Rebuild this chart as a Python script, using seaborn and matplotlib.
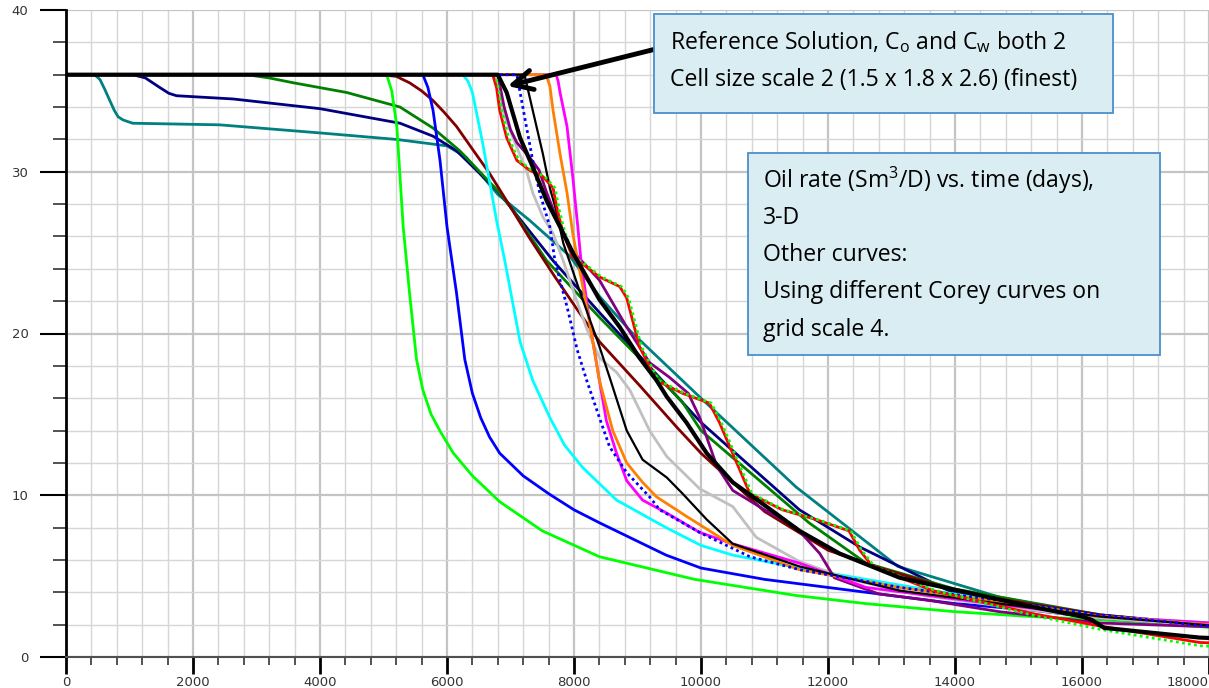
import matplotlib
matplotlib.use("Agg")
import matplotlib.pyplot as plt
from matplotlib.patches import Rectangle
import seaborn as sns
import numpy as np

# --- curves: time (days) vs oil rate (Sm3/D) ---
teal_x = [0, 430, 480, 535, 610, 690, 760, 820, 900, 1050, 2420, 4000, 5200, 6000, 6300, 6800, 7300, 7930, 8400, 8900, 10000, 11500, 13100, 14700, 16300, 17900, 18500]
teal_y = [36, 36, 35.9, 35.7, 35.1, 34.4, 33.8, 33.4, 33.2, 33.0, 32.9, 32.4, 32.0, 31.6, 30.9, 28.6, 27.0, 24.8, 22.3, 20.1, 16.0, 10.5, 5.6, 3.7, 2.5, 2.0, 1.9]

navy_x = [0, 1050, 1250, 1480, 1620, 1740, 2630, 4000, 5260, 5780, 6150, 6800, 7670, 8400, 10000, 11550, 12500, 13900, 16300, 18500]
navy_y = [36, 36, 35.8, 35.2, 34.85, 34.7, 34.5, 33.9, 33.0, 32.2, 31.3, 28.8, 24.5, 21.3, 14.5, 9.1, 6.8, 4.1, 2.4, 1.8]

green_x = [0, 2850, 3200, 3580, 4000, 4420, 5260, 5780, 6200, 6830, 7040, 7570, 8400, 9700, 10000, 11700, 12600, 14000, 16300, 18500]
green_y = [36, 36, 35.8, 35.5, 35.2, 34.9, 34.0, 32.7, 31.3, 28.7, 27.6, 24.5, 21.0, 15.8, 14.0, 8.3, 5.8, 4.2, 2.6, 1.8]

darkred_x = [0, 4940, 5200, 5410, 5600, 5780, 5950, 6150, 6400, 6670, 6940, 7300, 7700, 8100, 8400, 9030, 9620, 10000, 11000, 12000, 12900, 14200, 16300, 18500]
darkred_y = [36, 36, 35.9, 35.5, 35.0, 34.4, 33.7, 32.8, 31.4, 29.9, 28.2, 25.9, 23.5, 21.2, 19.5, 16.8, 14.2, 12.6, 9.0, 6.6, 5.4, 3.9, 2.6, 1.8]

lime_x = [0, 5050, 5130, 5210, 5310, 5410, 5520, 5620, 5750, 5900, 6100, 6400, 6830, 7500, 8400, 9900, 11500, 12600, 14000, 15200, 16300, 18500]
lime_y = [36, 36, 35.0, 32.8, 26.6, 22.5, 18.4, 16.5, 15.0, 13.9, 12.6, 11.2, 9.6, 7.8, 6.2, 4.8, 3.8, 3.3, 2.8, 2.5, 2.3, 1.7]

blue_x = [0, 5620, 5700, 5780, 5890, 6000, 6150, 6280, 6400, 6530, 6670, 6830, 7200, 7600, 8000, 8400, 9450, 10000, 11000, 12600, 14000, 15200, 16300, 18500]
blue_y = [36, 36, 35.2, 33.8, 30.7, 26.6, 22.5, 18.4, 16.3, 14.8, 13.6, 12.6, 11.2, 10.1, 9.1, 8.3, 6.3, 5.5, 4.8, 4.0, 3.3, 2.9, 2.4, 1.8]

cyan_x = [0, 6250, 6330, 6400, 6560, 6780, 6910, 7150, 7350, 7620, 7850, 8140, 8670, 9450, 10000, 10500, 11550, 13650, 16300, 18500]
cyan_y = [36, 36, 35.6, 34.9, 31.8, 27.0, 24.5, 19.5, 17.1, 14.8, 13.1, 11.7, 9.7, 8.0, 6.9, 6.3, 5.5, 4.1, 2.5, 2.0]

red_x = [0, 6720, 6780, 6830, 6940, 7100, 7300, 7510, 7670, 7740, 7830, 7980, 8170, 8400, 8720, 8830, 9030, 9300, 9710, 10130, 10290, 10770, 11280, 11810, 12330, 12500, 12700, 13650, 15200, 16300, 17850, 18500]
red_y = [36, 36, 35.2, 33.8, 32.1, 30.7, 30.1, 29.7, 29.0, 27.6, 26.2, 24.7, 24.2, 23.5, 22.9, 22.2, 19.2, 17.1, 16.3, 15.7, 14.5, 10.1, 9.1, 8.5, 7.8, 6.6, 5.6, 4.1, 2.7, 1.9, 0.9, 0.8]

purple_x = [0, 6800, 6900, 7000, 7100, 7300, 7450, 7570, 7720, 7930, 8400, 8830, 9190, 9500, 9800, 9980, 10250, 10500, 11000, 11500, 11870, 12100, 12800, 13600, 14700, 16300, 18500]
purple_y = [36, 36, 34.0, 32.6, 31.8, 30.9, 30.1, 28.7, 27.2, 25.3, 23.3, 20.4, 18.2, 17.3, 16.3, 14.8, 11.8, 10.3, 9.1, 8.0, 6.4, 4.9, 3.9, 3.5, 2.8, 2.1, 1.8]

grey_x = [0, 6750, 6900, 7100, 7250, 7350, 7510, 7670, 7830, 8000, 8200, 8400, 8670, 8880, 9190, 9460, 9980, 10500, 10870, 11550, 12340, 13500, 15000, 16300, 18500]
grey_y = [36, 36, 33.5, 31.5, 30.1, 28.7, 27.2, 26.2, 24.5, 22.5, 20.3, 18.5, 17.6, 16.5, 14.0, 12.4, 10.4, 9.3, 7.4, 5.9, 4.8, 3.8, 3.0, 2.4, 1.8]

bluedot_x = [0, 7100, 7250, 7350, 7460, 7620, 7700, 7900, 8050, 8200, 8400, 8560, 8830, 9190, 9350, 9980, 10770, 11550, 13130, 14700, 16300, 18500]
bluedot_y = [36, 36, 32.8, 30.7, 28.7, 26.6, 24.5, 21.5, 19.0, 17.1, 14.8, 13.0, 11.4, 9.9, 9.1, 7.7, 6.2, 5.4, 4.3, 3.5, 2.6, 1.7]

blackthin_x = [0, 7220, 7350, 7510, 7620, 7720, 7830, 8100, 8400, 8560, 8830, 9080, 9460, 9710, 10090, 10500, 11550, 13130, 14700, 16300, 18500]
blackthin_y = [36, 36, 33.8, 31.1, 29.0, 27.6, 25.6, 22.5, 19.2, 17.3, 14.0, 12.2, 11.1, 10.1, 8.5, 7.0, 5.6, 4.1, 3.3, 2.5, 1.8]

orange_x = [0, 7560, 7620, 7670, 7780, 7890, 7980, 8060, 8230, 8400, 8610, 8830, 9080, 9300, 9770, 10500, 11550, 13130, 14700, 16300, 18500]
orange_y = [36, 36, 35.3, 33.8, 31.1, 28.7, 26.2, 24.5, 21.0, 17.1, 14.0, 12.0, 10.8, 9.9, 8.7, 6.9, 5.4, 4.3, 3.4, 2.5, 1.85]

magenta_x = [0, 7720, 7750, 7780, 7890, 7980, 8060, 8110, 8250, 8400, 8510, 8670, 8830, 9080, 9460, 9980, 10500, 11550, 12600, 14180, 16300, 18500]
magenta_y = [36, 36, 35.6, 34.9, 32.8, 29.7, 26.6, 24.5, 20.6, 17.1, 14.6, 12.6, 10.9, 9.7, 8.9, 7.7, 7.0, 5.8, 4.3, 3.5, 2.5, 2.0]

limedot_x = [0, 6760, 6810, 6860, 6970, 7130, 7330, 7540, 7700, 7770, 7860, 8010, 8200, 8430, 8750, 8860, 9060, 9330, 9740, 10160, 10320, 10800, 11300, 11830, 12360, 12530, 12730, 13700, 15200, 16300, 17850, 18500]
limedot_y = [36, 36, 35.2, 33.8, 32.1, 30.7, 30.1, 29.7, 29.0, 27.6, 26.2, 24.7, 24.2, 23.5, 22.9, 22.2, 19.2, 17.1, 16.3, 15.7, 14.5, 10.1, 9.1, 8.5, 7.8, 6.6, 5.6, 4.1, 2.6, 1.7, 0.7, 0.55]

ref_x = [0, 6800, 6940, 7150, 7350, 7570, 7780, 7980, 8400, 8720, 9030, 9300, 9460, 9770, 10090, 10500, 11030, 11550, 12180, 13130, 14180, 15220, 16000, 16150, 16350, 17850, 18500]
ref_y = [36, 36, 34.9, 32.1, 30.3, 28.2, 26.6, 25.0, 22.1, 20.4, 18.5, 17.1, 16.1, 14.5, 12.6, 10.8, 9.3, 7.8, 6.4, 4.9, 4.0, 3.1, 2.5, 2.3, 1.8, 1.2, 1.1]

x_ticks = [0, 2000, 4000, 6000, 8000, 10000, 12000, 14000, 16000, 18000]
y_ticks = [0, 10, 20, 30, 40]

# (x, y, color, width, style) in drawing order
curves = [
    (teal_x, teal_y, "#008080", 2.0, "-"),
    (navy_x, navy_y, "#000080", 2.0, "-"),
    (green_x, green_y, "#008000", 2.0, "-"),
    (darkred_x, darkred_y, "#800000", 2.0, "-"),
    (lime_x, lime_y, "#00FF00", 2.0, "-"),
    (blue_x, blue_y, "#0000FF", 2.0, "-"),
    (cyan_x, cyan_y, "#00FFFF", 2.0, "-"),
    (grey_x, grey_y, "#C0C0C0", 2.0, "-"),
    (purple_x, purple_y, "#800080", 2.0, "-"),
    (magenta_x, magenta_y, "#FF00FF", 2.0, "-"),
    (orange_x, orange_y, "#FF8000", 2.0, "-"),
    (blackthin_x, blackthin_y, "#000000", 1.6, "-"),
    (bluedot_x, bluedot_y, "#0000FF", 2.0, (0, (1, 1.2))),
    (red_x, red_y, "#FF0000", 2.0, "-"),
    (limedot_x, limedot_y, "#00FF00", 2.0, (0, (1, 1.2))),
    (ref_x, ref_y, "#000000", 3.0, "-"),
]

sns.set_style("white")
plt.rcParams["font.family"] = ["DejaVu Sans"]
plt.rcParams["mathtext.fontset"] = "custom"
plt.rcParams["mathtext.rm"] = "Open Sans"

W, H = 1209, 688
fig = plt.figure(figsize=(W / 100, H / 100), dpi=100)
ax = fig.add_axes([66 / W, 31 / H, 1 - 66 / W, 647 / H])

for xs, ys, col, lw, ls in curves:
    sns.lineplot(x=xs, y=ys, color=col, lw=lw, ls=ls, sort=False,
                 estimator=None, ax=ax, legend=False)

ax.set_xlim(0, 18000)
ax.set_ylim(0, 40)
ax.set_xticks(x_ticks)
ax.set_xticks(np.arange(0, 18001, 400), minor=True)
ax.set_yticks(y_ticks)
ax.set_yticks(np.arange(0, 41, 2), minor=True)
ax.set_xticklabels([str(v) for v in x_ticks])
ax.set_yticklabels([str(v) for v in y_ticks])
ax.get_xticklabels()[-1].set_horizontalalignment("right")

ax.grid(which="major", color="#C4C4C4", lw=1.6)
ax.grid(which="minor", color="#D6D6D6", lw=1.0)
ax.set_axisbelow(True)

for s in ["top", "right"]:
    ax.spines[s].set_visible(False)
ax.spines["left"].set_color("black")
ax.spines["left"].set_linewidth(2.0)
ax.spines["bottom"].set_color("#505050")
ax.spines["bottom"].set_linewidth(1.5)

ax.tick_params(axis="y", which="major", length=19, width=1.5, color="black",
               pad=8, labelsize=9.5, labelcolor="#333333", left=True)
ax.tick_params(axis="y", which="minor", length=9.5, width=1.2, color="#333333", left=True)
ax.tick_params(axis="x", which="major", length=12, width=2, color="black",
               pad=2, labelsize=9.5, labelcolor="#333333", bottom=True)
ax.tick_params(axis="x", which="minor", length=6, width=1.2, color="#333333", bottom=True)
ax.set_xlabel("")
ax.set_ylabel("")

# arrow pointing at the reference solution
ax.annotate("", xy=(6955, 35.3), xytext=(9300, 37.6),
            arrowprops=dict(arrowstyle="->,head_length=1.4,head_width=0.7",
                            lw=3.5, color="black", shrinkA=0, shrinkB=0),
            zorder=10)

box_face = "#DAEDF3"
box_edge = "#4A8FCB"
fig.add_artist(Rectangle((654 / W, 1 - 113 / H), (1113 - 654) / W, 99 / H,
                         transform=fig.transFigure, facecolor=box_face,
                         edgecolor=box_edge, lw=1.3, zorder=20))
fig.add_artist(Rectangle((748 / W, 1 - 355 / H), (1160 - 748) / W, 202 / H,
                         transform=fig.transFigure, facecolor=box_face,
                         edgecolor=box_edge, lw=1.3, zorder=20))

tkw = dict(family="Open Sans", fontsize=16.6, color="black", va="center",
           ha="left", zorder=25)
fig.text(670 / W, 1 - 42 / H, r"Reference Solution, C$_\mathrm{o}$ and C$_\mathrm{w}$ both 2", **tkw)
fig.text(670 / W, 1 - 80 / H, "Cell size scale 2 (1.5 x 1.8 x 2.6) (finest)", **tkw)

lines2 = [r"Oil rate (Sm$^3$/D) vs. time (days),", "3-D", "Other curves:",
          "Using different Corey curves on", "grid scale 4."]
for i, t in enumerate(lines2):
    fig.text(763 / W, 1 - (180 + 37.5 * i) / H, t, **tkw)

fig.savefig("out.png", dpi=100)
